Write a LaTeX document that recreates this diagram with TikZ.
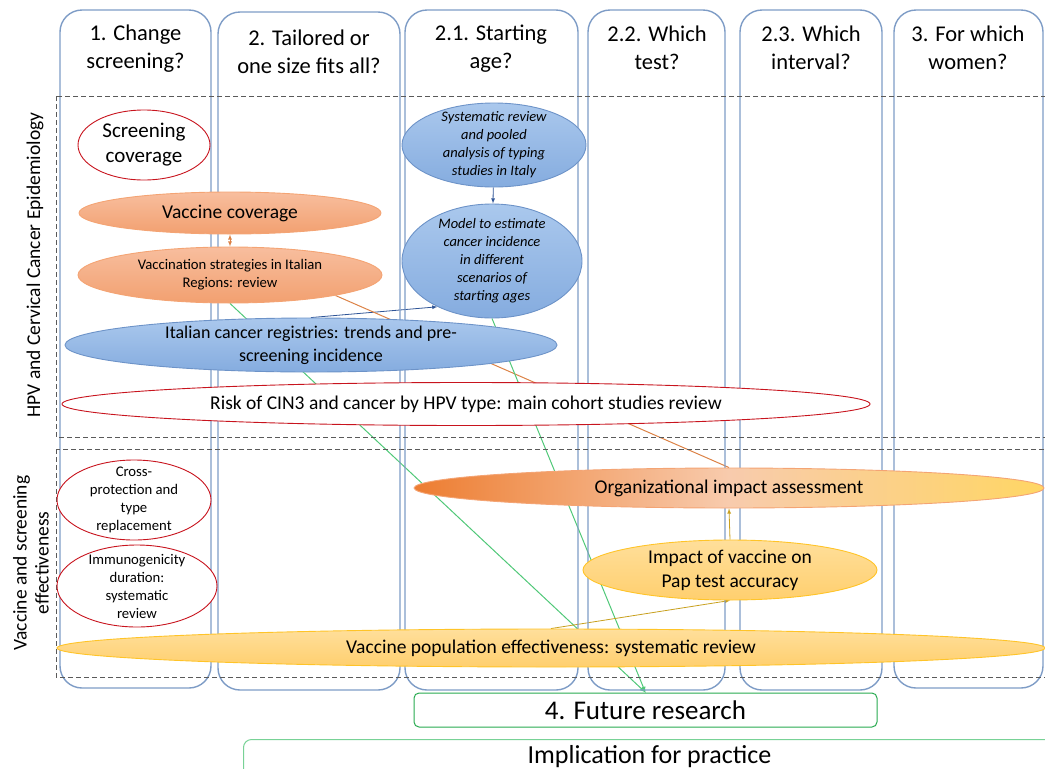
\documentclass[tikz,border=0pt]{standalone}
\usepackage{fontspec}
\setmainfont{Carlito}
\usepackage{tikz}
\usetikzlibrary{shapes.geometric, positioning}
\pgfdeclarelayer{background}
\pgfsetlayers{background,main}
\definecolor{colline}{RGB}{126,156,198}
\definecolor{ovred}{RGB}{200,20,30}
\definecolor{blueline}{RGB}{109,147,200}
\definecolor{bluetop}{RGB}{170,200,237}
\definecolor{bluebot}{RGB}{133,172,223}
\definecolor{orline}{RGB}{244,164,116}
\definecolor{ortop}{RGB}{248,190,158}
\definecolor{orbot}{RGB}{242,160,112}
\definecolor{yline}{RGB}{255,196,40}
\definecolor{ytop}{RGB}{255,223,155}
\definecolor{ybot}{RGB}{255,207,110}
\definecolor{orgleft}{RGB}{237,125,49}
\definecolor{orgmid}{RGB}{248,203,173}
\definecolor{orgright}{RGB}{255,214,100}
\definecolor{dashgray}{RGB}{90,90,90}
\definecolor{linkgreen}{RGB}{80,200,120}
\definecolor{futgreen}{RGB}{40,170,80}
\definecolor{implgreen}{RGB}{120,210,150}
\definecolor{linkblue}{RGB}{47,85,151}
\definecolor{linkgold}{RGB}{200,160,30}
\definecolor{linkorange}{RGB}{220,130,70}

\begin{document}
\begin{tikzpicture}[x=1pt, y=-1pt,
  col/.style={draw=colline, line width=1.4pt, rounded corners=22pt},
  head/.style={align=center, font=\fontsize{22.5}{28}\selectfont},
  band/.style={draw=dashgray, line width=1pt, dash pattern=on 5pt off 3pt},
  oval/.style={ellipse, inner sep=-200pt, align=center, line width=0.9pt, font=\fontsize{19.5}{24}\selectfont},
  small/.style={font=\fontsize{14.7}{18}\selectfont},
  redoval/.style={oval, draw=ovred, fill=white},
  blueoval/.style={oval, draw=blueline, top color=bluetop, bottom color=bluebot},
  orangeoval/.style={oval, draw=orline, top color=ortop, bottom color=orbot},
  yellowoval/.style={oval, draw=yline, top color=ytop, bottom color=ybot}]
\useasboundingbox (0,0) rectangle (1045,769);

\draw[col] (60,10) rectangle (211,688);
\draw[col] (218,12) rectangle (400,690);
\draw[col] (405,10) rectangle (578,690);
\draw[col] (588,10) rectangle (725,690);
\draw[col] (740,10) rectangle (882,690);
\draw[col] (894,10) rectangle (1043,688);
\node[head] (h1) at (135.5,49) {1. Change\\screening?};
\node[head] (h2) at (309,52) {2. Tailored or\\one size fits all?};
\node[head] (h3) at (491,49) {2.1. Starting\\age?};
\node[head] (h4) at (657,48) {2.2. Which\\test?};
\node[head] (h5) at (811,48) {2.3. Which\\interval?};
\node[head] (h6) at (968,48) {3. For which\\women?};

\draw[band] (56,96) rectangle (1050,437);
\draw[band] (56,449) rectangle (1050,677);
\node[rotate=90, font=\fontsize{19.5}{24}\selectfont] (epid) at (35,265) {HPV and Cervical Cancer Epidemiology};
\node[rotate=90, align=center, font=\fontsize{19.5}{22}\selectfont] (effect) at (31,563) {Vaccine and screening\\effectiveness};

\node[redoval, minimum width=132, minimum height=70, font=\fontsize{21}{25}\selectfont] (scrcov) at (144,145) {Screening\\coverage};
\node[orangeoval, minimum width=302, minimum height=42] (vaccov) at (230,213) {Vaccine coverage};
\node[orangeoval, small, minimum width=304, minimum height=56] (vacstrat) at (230,275) {Vaccination strategies in Italian\\Regions: review};
\node[blueoval, minimum width=492, minimum height=54, font=\fontsize{18}{23}\selectfont] (registries) at (311,345) {Italian cancer registries: trends and pre-\\screening incidence};
\node[blueoval, small, minimum width=184, minimum height=84, font=\fontsize{14.5}{18}\selectfont\itshape] (typing) at (494,145) {Systematic review\\and pooled\\analysis of typing\\studies in Italy};
\node[blueoval, small, minimum width=180, minimum height=114, font=\fontsize{14.5}{18}\selectfont\itshape] (model) at (492,261) {Model to estimate\\cancer incidence\\in different\\scenarios of\\starting ages};
\node[redoval, minimum width=808, minimum height=43] (risk) at (466,404) {Risk of CIN3 and cancer by HPV type: main cohort studies review};

\node[oval, draw=orline, left color=orgleft, right color=orgright, middle color=orgmid, minimum width=630, minimum height=40] (orgimp) at (729,488) {Organizational impact assessment};
\node[yellowoval, minimum width=294, minimum height=60] (papacc) at (730,570) {Impact of vaccine on\\Pap test accuracy};
\node[yellowoval, minimum width=988, minimum height=38] (popeff) at (551,648) {Vaccine population effectiveness: systematic review};
\node[redoval, small, minimum width=154, minimum height=80] (crossprot) at (134,500) {Cross-\\protection and\\type\\replacement};
\node[redoval, small, minimum width=160, minimum height=82] (immuno) at (137,586) {Immunogenicity\\duration:\\systematic\\review};

\node[draw=futgreen, line width=1pt, rounded corners=5pt, minimum width=463, minimum height=34, font=\fontsize{27}{30}\selectfont] (future) at (645.5,710) {4. Future research};
\node[draw=implgreen, line width=1pt, rounded corners=8pt, anchor=north west, minimum width=812, inner ysep=5pt, text height=19pt, text depth=40pt, font=\fontsize{26}{30}\selectfont] (practice) at (243,739) {Implication for practice};

\begin{pgfonlayer}{background}
\draw[latex-latex, linkorange, line width=0.8pt] (vaccov) -- (vacstrat);
\draw[-latex, linkblue, line width=0.8pt] (typing) -- (model);
\draw[-latex, linkblue, line width=0.8pt] (registries.north) -- (model.-140);
\draw[linkorange, line width=1pt] (vacstrat.-11) -- (orgimp.north);
\draw[-latex, linkgreen, line width=1pt] (vacstrat.south) -- (future.north);
\draw[-latex, linkgreen, line width=1pt] (model.south) -- (future.north);
\draw[-latex, linkgold, line width=0.8pt] (papacc.north) -- (orgimp.south);
\draw[-latex, linkgold, line width=0.8pt] (popeff.north) -- (papacc.south);
\end{pgfonlayer}
\end{tikzpicture}
\end{document}
